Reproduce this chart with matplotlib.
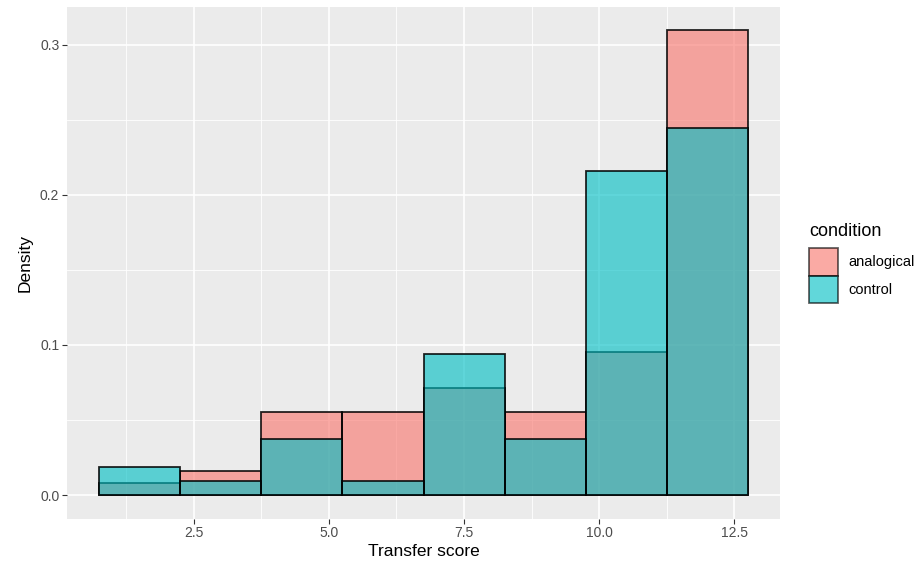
import numpy as np
import matplotlib
matplotlib.use("Agg")
import matplotlib.pyplot as plt
from matplotlib.patches import Patch

plt.rcParams['font.family'] = ['Liberation Sans', 'DejaVu Sans']

# Data: counts per bin of transfer score (bin width 1.5)
bin_edges = [0.75, 2.25, 3.75, 5.25, 6.75, 8.25, 9.75, 11.25, 12.75]
bin_centers = [1.5, 3.0, 4.5, 6.0, 7.5, 9.0, 10.5, 12.0]
analogical_counts = [1, 2, 7, 7, 9, 7, 12, 39]
control_counts = [2, 1, 4, 1, 10, 4, 23, 26]

conditions = ["analogical", "control"]
colors = {"analogical": "#F8766D", "control": "#00BFC4"}
counts = {"analogical": analogical_counts, "control": control_counts}

fig = plt.figure(figsize=(9.24, 5.71), dpi=100)
ax = fig.add_axes([67 / 924, 1 - 518.5 / 571, (780 - 67) / 924, (518.5 - 7) / 571])
ax.set_facecolor("#EBEBEB")

for cond in conditions:
    ax.hist(bin_centers, bins=bin_edges, weights=counts[cond], density=True,
            facecolor=colors[cond], alpha=0.62, edgecolor="none", zorder=3)
    ax.hist(bin_centers, bins=bin_edges, weights=counts[cond], density=True,
            facecolor="none", edgecolor="black", linewidth=1.3, alpha=0.85, zorder=3)

ax.set_xlim(0.15, 13.35)
ax.set_ylim(-0.0155, 0.325)
ax.set_xticks([2.5, 5.0, 7.5, 10.0, 12.5])
ax.set_xticklabels(["2.5", "5.0", "7.5", "10.0", "12.5"])
ax.set_yticks([0.0, 0.1, 0.2, 0.3])
ax.set_yticklabels(["0.0", "0.1", "0.2", "0.3"])
ax.set_xticks([1.25, 3.75, 6.25, 8.75, 11.25], minor=True)
ax.set_yticks([0.05, 0.15, 0.25], minor=True)

ax.grid(True, which="major", color="white", linewidth=1.2, zorder=0)
ax.grid(True, which="minor", color="white", linewidth=0.6, zorder=0)
ax.set_axisbelow(True)
for s in ax.spines.values():
    s.set_visible(False)

ax.tick_params(which="major", length=3.5, width=0.8, color="#333333",
               labelsize=10, labelcolor="#4D4D4D", pad=2)
ax.tick_params(which="minor", length=0)

ax.set_xlabel("Transfer score", fontsize=12.5, labelpad=3)
ax.set_ylabel("Density", fontsize=12.5, labelpad=5)

handles = [Patch(facecolor=colors[c], alpha=0.62, edgecolor="black", linewidth=1.3)
           for c in conditions]
leg = fig.legend(handles, conditions, title="condition", loc="center left",
                 bbox_to_anchor=(809 / 924, 1 - 263 / 571), frameon=False,
                 fontsize=10.5, title_fontsize=13, handlelength=2.0,
                 handleheight=2.5, handletextpad=0.7, labelspacing=0.0,
                 borderaxespad=0, borderpad=0)
leg._legend_box.align = "left"
leg._legend_box.sep = 6

fig.savefig("out.png", dpi=100)
